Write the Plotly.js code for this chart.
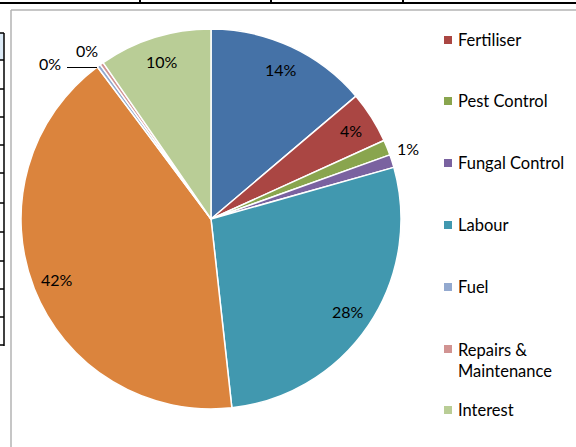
<!DOCTYPE html>
<html>
<head>
<meta charset="utf-8">
<script src="https://cdn.plot.ly/plotly-3.0.1.min.js"></script>
<style>html,body{margin:0;padding:0;background:#fff;}#chart{width:576px;height:447px;}</style>
</head>
<body>
<div id="chart"></div>
<script>
// ---- data ----
const categories = ["Seed", "Fertiliser", "Pest Control", "Fungal Control", "Labour", "Land Rent", "Fuel", "Repairs & Maintenance", "Interest"];
const values = [13.8, 4.4, 1.3, 1.1, 27.6, 41.5, 0.3, 0.3, 9.6];
const colors = ["#4572A7", "#AA4643", "#89A54E", "#7A62A0", "#4198AF", "#DB843D", "#93A9CF", "#D19392", "#B9CD96"];
const showLabel = [true, true, false, true, true, true, true, true, true];
const inLegend = [false, true, true, true, true, false, true, true, true];
const legendText = ["", "Fertiliser", "Pest Control", "Fungal Control", "Labour", "", "Fuel", "Repairs &<br>Maintenance", "Interest"];

// ---- layout helpers ----
const W = 576, H = 447;
const cx = 211, cy = 219, R = 190;
const px = x => x / W;
const py = y => 1 - y / H;
const FONT = "Lato, 'Liberation Sans', sans-serif";
const total = values.reduce((a, b) => a + b, 0);

const annotations = [];
const shapes = [];

// inside labels computed from data at Excel-like radius
const insideR = 0.87;
const outsidePos = { 3: [408, 148], 6: [50, 63], 7: [87, 50] };
let cum = 0;
values.forEach((v, i) => {
  const mid = (cum + v / 2) / total * 2 * Math.PI;
  cum += v;
  if (!showLabel[i]) return;
  const txt = Math.round(v / total * 100) + "%";
  let x, y;
  if (outsidePos[i]) { [x, y] = outsidePos[i]; }
  else { x = cx + insideR * R * Math.sin(mid); y = cy - insideR * R * Math.cos(mid); }
  annotations.push({ xref: "paper", yref: "paper", x: px(x), y: py(y), text: txt, showarrow: false,
    xanchor: "center", yanchor: "middle", font: { family: FONT, size: 16, color: "#000" } });
});
// leader line for Fuel label
shapes.push({ type: "line", xref: "paper", yref: "paper", x0: px(67), x1: px(97), y0: py(67.5), y1: py(67.5), line: { color: "#000", width: 1 } });

// custom legend
const legendY = [0, 40, 101, 163, 225, 0, 287, 349, 410];
categories.forEach((c, i) => {
  if (!inLegend[i]) return;
  const y = legendY[i];
  shapes.push({ type: "rect", xref: "paper", yref: "paper", x0: px(444), x1: px(452), y0: py(y - 4), y1: py(y + 4), fillcolor: colors[i], line: { width: 0 } });
  const two = legendText[i].indexOf("<br>") >= 0;
  annotations.push({ xref: "paper", yref: "paper", x: px(456), y: two ? py(y - 11) : py(y), text: legendText[i], showarrow: false,
    xanchor: "left", yanchor: two ? "top" : "middle", align: "left", font: { family: FONT, size: 16.5, color: "#000" } });
});

// spreadsheet background + chart border
shapes.push({ type: "line", xref: "paper", yref: "paper", x0: 0, x1: 1, y0: py(3), y1: py(3), line: { color: "#000", width: 2 } });
[140, 271, 403].forEach(x => shapes.push({ type: "line", xref: "paper", yref: "paper", x0: px(x), x1: px(x), y0: py(0), y1: py(4), line: { color: "#000", width: 2 } }));
shapes.push({ type: "rect", xref: "paper", yref: "paper", x0: 0, x1: px(4), y0: py(60), y1: py(33), fillcolor: "#DDEBF7", line: { width: 0 } });
[33, 60, 89, 117, 145, 173, 203, 232, 261, 289, 317, 345].forEach(y => shapes.push({ type: "line", xref: "paper", yref: "paper", x0: 0, x1: px(4), y0: py(y), y1: py(y), line: { color: "#000", width: 1.5 } }));
shapes.push({ type: "line", xref: "paper", yref: "paper", x0: px(4), x1: px(4), y0: py(33), y1: py(346), line: { color: "#000", width: 1.5 } });
shapes.push({ type: "line", xref: "paper", yref: "paper", x0: px(11), x1: px(11), y0: py(10), y1: 0, line: { color: "#B3B3B3", width: 1.5 } });
shapes.push({ type: "line", xref: "paper", yref: "paper", x0: px(11), x1: 1, y0: py(10), y1: py(10), line: { color: "#B3B3B3", width: 1.5 } });

const trace = {
  type: "pie",
  labels: categories,
  values: values,
  sort: false,
  direction: "clockwise",
  rotation: 0,
  textinfo: "none",
  hoverinfo: "label+percent",
  marker: { colors: colors, line: { color: "#fff", width: 1.5 } },
  domain: { x: [px(cx - R), px(cx + R)], y: [py(cy + R), py(cy - R)] },
  showlegend: false
};

const layout = {
  width: W, height: H,
  margin: { l: 0, r: 0, t: 0, b: 0 },
  paper_bgcolor: "#fff",
  showlegend: false,
  annotations: annotations,
  shapes: shapes,
  font: { family: FONT }
};

Plotly.newPlot("chart", [trace], layout, { displayModeBar: false, staticPlot: true });
</script>
</body>
</html>
